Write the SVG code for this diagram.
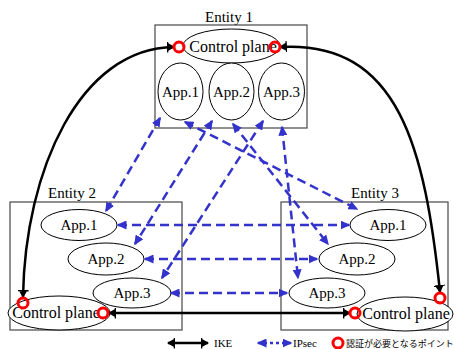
<svg xmlns="http://www.w3.org/2000/svg" width="454" height="349" viewBox="0 0 454 349">
<style>
.box{fill:none;stroke:#555;stroke-width:1.3}
.el{fill:#fff;stroke:#000;stroke-width:1}
.t{font-family:"Liberation Serif","Times New Roman",serif;font-size:15px;fill:#000;text-anchor:middle}
.cp{font-size:16px}
.ike{fill:none;stroke:#000;stroke-width:2.5;marker-start:url(#ka);marker-end:url(#ka)}
.ips{fill:none;stroke:#3333cc;stroke-width:2.5;stroke-dasharray:9 5;marker-start:url(#ba);marker-end:url(#ba)}
.pt{fill:none;stroke:#ff0000;stroke-width:3}
.lg{font-family:"Liberation Serif","Times New Roman",serif;font-size:11px;fill:#000}
.jp{font-family:"Noto Sans CJK JP",sans-serif;font-size:9px;fill:#000}
</style>
<defs>
<marker id="ka" markerUnits="userSpaceOnUse" markerWidth="9" markerHeight="11" viewBox="0 -1.5 9 11" refX="7" refY="4" orient="auto-start-reverse">
<path d="M0,-1.5 h1.3 v11 h-1.3z M1,0 L8,4 L1,8z" fill="#000"/>
</marker>
<marker id="ba" markerUnits="userSpaceOnUse" markerWidth="10" markerHeight="9" viewBox="0 0 10 9" refX="8.5" refY="4.5" orient="auto-start-reverse">
<path d="M0,0 L10,4.5 L0,9z" fill="#3333cc"/>
</marker>
</defs>

<g id="entity1">
<text class="t" x="229" y="22">Entity 1</text>
<rect class="box" x="155" y="25" width="152" height="103"/>
<g id="e1-control"><ellipse class="el" cx="231.5" cy="46" rx="48.5" ry="17"/><text class="t cp" x="233" y="52">Control plane</text></g>
<g id="e1-app1"><ellipse class="el" cx="180.5" cy="91.5" rx="22.5" ry="28.5"/><text class="t" x="180.5" y="97">App.1</text></g>
<g id="e1-app2"><ellipse class="el" cx="231.5" cy="91.5" rx="22.5" ry="28.5"/><text class="t" x="231.5" y="97">App.2</text></g>
<g id="e1-app3"><ellipse class="el" cx="281.5" cy="91.5" rx="23" ry="28.5"/><text class="t" x="281.5" y="97">App.3</text></g>
</g>

<g id="entity2">
<text class="t" x="72" y="198">Entity 2</text>
<rect class="box" x="10" y="202" width="172" height="128"/>
<g id="e2-app1"><ellipse class="el" cx="79" cy="225" rx="38" ry="15.5"/><text class="t" x="79" y="230">App.1</text></g>
<g id="e2-app2"><ellipse class="el" cx="106" cy="259" rx="38" ry="16"/><text class="t" x="106" y="264">App.2</text></g>
<g id="e2-app3"><ellipse class="el" cx="132" cy="293" rx="39" ry="15"/><text class="t" x="132" y="298">App.3</text></g>
<g id="e2-control"><ellipse class="el" cx="59" cy="313" rx="51" ry="17"/><text class="t cp" x="56" y="318">Control plane</text></g>
</g>

<g id="entity3">
<text class="t" x="375" y="198">Entity 3</text>
<rect class="box" x="281" y="202" width="167" height="128"/>
<g id="e3-app1"><ellipse class="el" cx="388" cy="225" rx="38" ry="15.5"/><text class="t" x="388" y="230">App.1</text></g>
<g id="e3-app2"><ellipse class="el" cx="357" cy="259" rx="38" ry="16"/><text class="t" x="357" y="264">App.2</text></g>
<g id="e3-app3"><ellipse class="el" cx="327" cy="293" rx="38" ry="15"/><text class="t" x="327" y="298">App.3</text></g>
<g id="e3-control"><ellipse class="el" cx="405" cy="314" rx="48" ry="17"/><text class="t cp" x="406" y="319">Control plane</text></g>
</g>

<g id="connectors">
<path class="ike" d="M174,47 C80,48 25,170 23,297"/>
<path class="ike" d="M280,47 C400,40 425,150 440,292"/>
<path class="ike" d="M109,313 L350,313"/>
<path class="ips" d="M160,118 L106,211"/>
<path class="ips" d="M185,122 L357,209"/>
<path class="ips" d="M212,121 L135,244"/>
<path class="ips" d="M233,124 L328,244"/>
<path class="ips" d="M263,121 L162,278"/>
<path class="ips" d="M282,127 L298,278"/>
<path class="ips" d="M118,225 L349,225"/>
<path class="ips" d="M145,259 L317,259"/>
<path class="ips" d="M171,293 L287,293"/>
</g>

<g id="points">
<circle class="pt" cx="179" cy="47" r="5"/>
<circle class="pt" cx="275" cy="47" r="5"/>
<circle class="pt" cx="23" cy="303" r="5"/>
<circle class="pt" cx="103" cy="313" r="5"/>
<circle class="pt" cx="355" cy="313" r="5"/>
<circle class="pt" cx="440" cy="298" r="5"/>
</g>

<g id="legend">
<path class="ike" d="M168,343 L208,343"/>
<text class="lg" x="214" y="347">IKE</text>
<path class="ips" style="stroke-dasharray:3 3" d="M258,343 L291,343"/>
<text class="lg" x="293" y="347">IPsec</text>
<circle class="pt" cx="338" cy="343" r="5"/>
<text class="jp" x="346" y="347">認証が必要となるポイント</text>
</g>
</svg>
